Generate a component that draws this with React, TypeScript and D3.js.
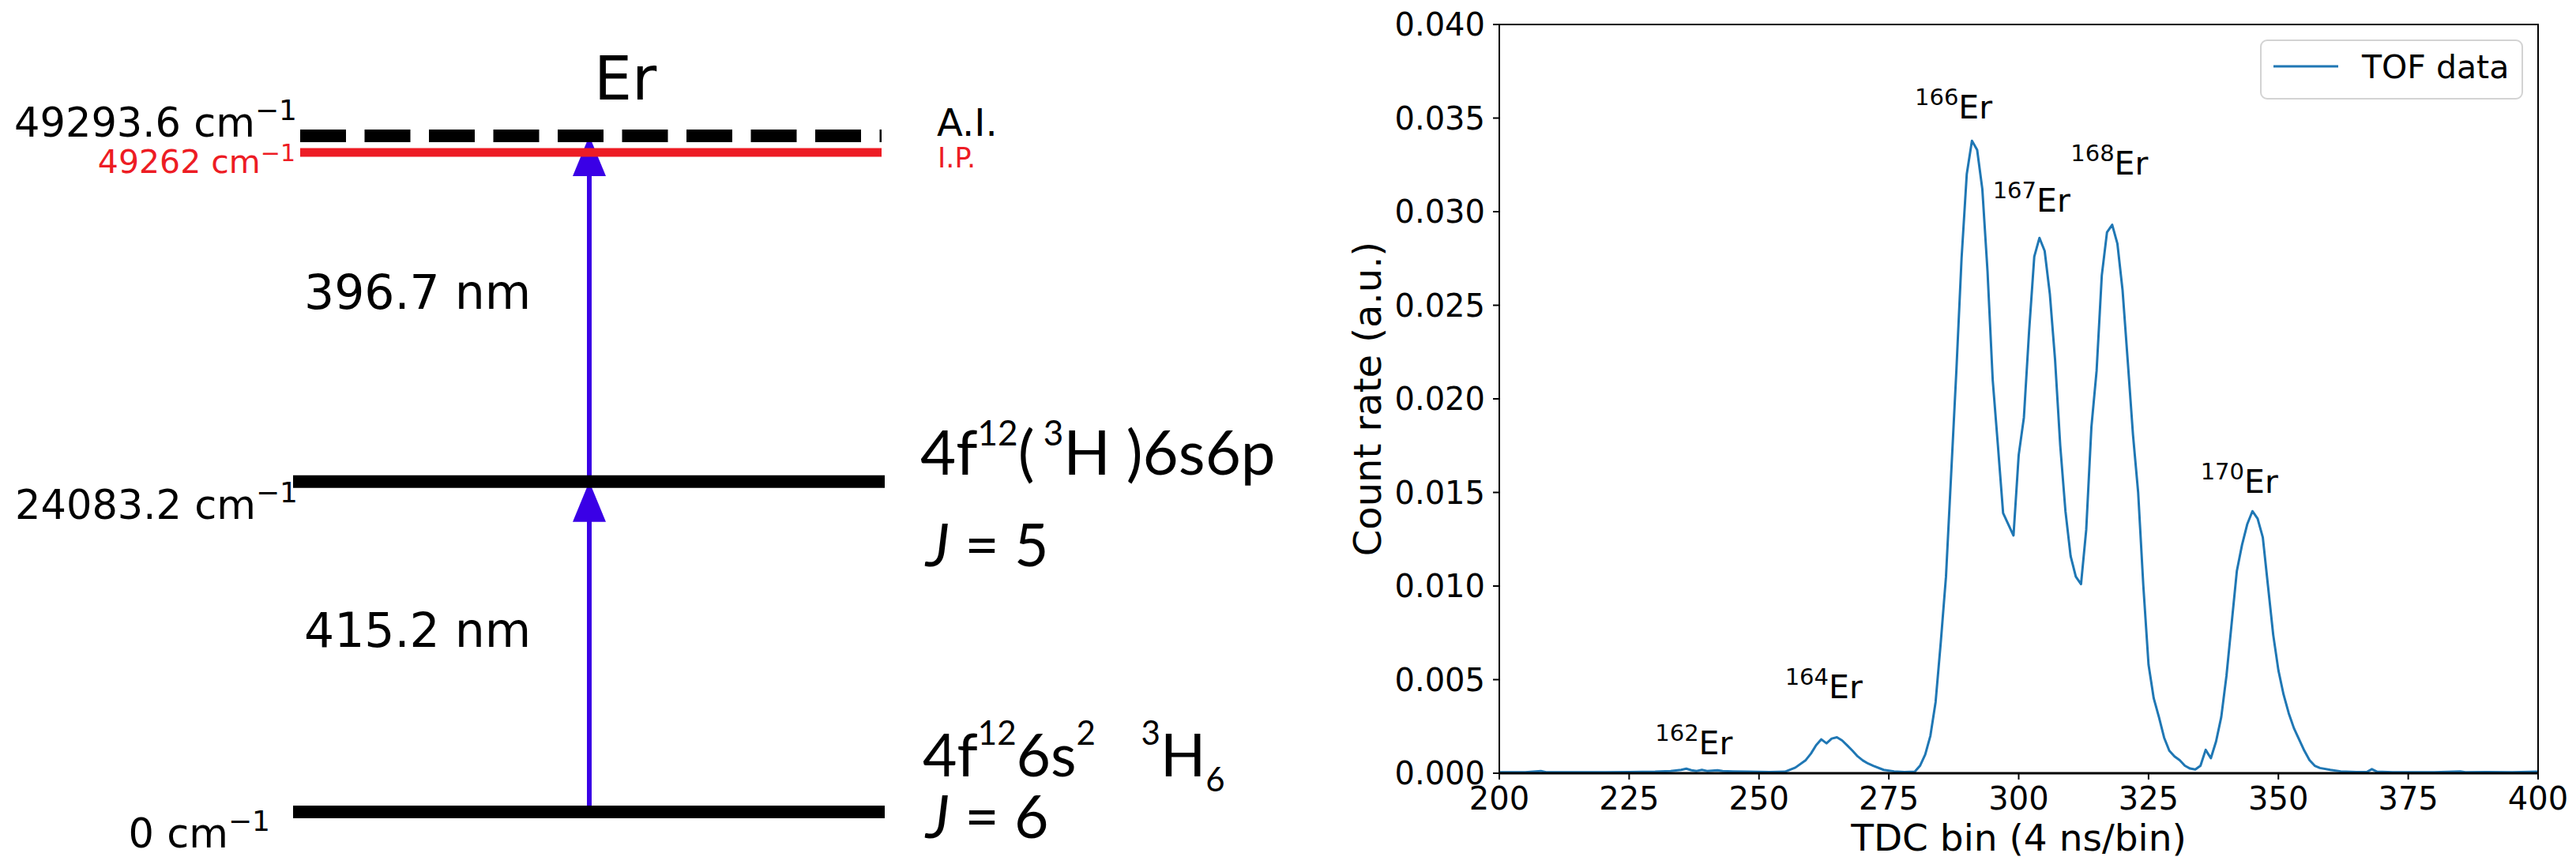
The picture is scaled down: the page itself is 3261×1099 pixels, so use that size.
import React, { useRef, useEffect } from "react";
import * as d3 from "d3";

const W = 3261;
const H = 1099;

// ---- energy level scheme (left panel) ----
const levelEnergies = [0, 24083.2, 49293.6];
const levelLabels = ["0 cm", "24083.2 cm", "49293.6 cm"];
const ionizationEnergy = 49262;
const ionizationLabel = "49262 cm";
const wavelengths = ["415.2 nm", "396.7 nm"];

// ---- TOF spectrum (right panel) ----
const tofBins = [
  200, 205, 208, 209, 215, 220, 225, 230, 233, 235, 236, 237, 238, 239, 240, 242, 243, 245, 248, 252,
  255, 257, 259, 260, 261, 262, 263, 264, 265, 266, 267, 268, 269, 270, 271, 272, 274, 276, 278, 280,
  281, 282, 283, 284, 285, 286, 287, 288, 289, 290, 291, 292, 293, 294, 295, 296, 297, 298, 299, 300,
  301, 302, 303, 304, 305, 306, 307, 308, 309, 310, 311, 312, 313, 314, 315, 316, 317, 318, 319, 320,
  321, 322, 323, 324, 325, 326, 327, 328, 329, 330, 331, 332, 333, 334, 335, 336, 337, 338, 339, 340,
  341, 342, 343, 344, 345, 346, 347, 348, 349, 350, 351, 352, 353, 354, 355, 356, 357, 358, 360, 362,
  365, 367, 368, 369, 372, 380, 385, 386, 390, 395, 400,
];
const tofCounts = [
  0.00005, 0.00005, 0.00012, 0.00005, 0.00005, 0.00005, 0.00006, 0.00008, 0.00012, 0.00018, 0.00024, 0.00016, 0.00012, 0.00018, 0.00012, 0.00016, 0.00012, 0.0001, 0.00008, 0.00006,
  0.00008, 0.0003, 0.0007, 0.00105, 0.0015, 0.00181, 0.0016, 0.00185, 0.00192, 0.00175, 0.00148, 0.0012, 0.0009, 0.00068, 0.00052, 0.0004, 0.00018, 0.0001, 0.00006, 0.00008,
  0.0004, 0.001, 0.002, 0.0038, 0.007, 0.0105, 0.016, 0.0215, 0.0275, 0.032, 0.03379, 0.0333, 0.0312, 0.0268, 0.021, 0.0175, 0.0139, 0.0133, 0.0127, 0.017,
  0.019, 0.0236, 0.0276, 0.0286, 0.0279, 0.0256, 0.0221, 0.0175, 0.014, 0.0116, 0.0105, 0.0101, 0.013, 0.0185, 0.0215, 0.0266, 0.0289, 0.0293, 0.0283, 0.0258,
  0.022, 0.0181, 0.015, 0.01, 0.0058, 0.004, 0.003, 0.0019, 0.0012, 0.0009, 0.0007, 0.0004, 0.00025, 0.0002, 0.0004, 0.00125, 0.0008, 0.0017, 0.003, 0.0052,
  0.008, 0.0108, 0.0122, 0.0133, 0.014, 0.0136, 0.0126, 0.01, 0.0074, 0.0055, 0.0042, 0.0032, 0.0024, 0.0018, 0.0012, 0.0007, 0.0004, 0.00028, 0.00018, 0.0001,
  0.00006, 0.00006, 0.00022, 0.00008, 0.00005, 0.00005, 0.0001, 0.00005, 0.00006, 0.00005, 0.00008,
];
const xTicks = [200, 225, 250, 275, 300, 325, 350, 375, 400];
const yTicks = [0, 0.005, 0.01, 0.015, 0.02, 0.025, 0.03, 0.035, 0.04];
const isotopeMasses = ["162", "164", "166", "167", "168", "170"];
const isotopeLabelBins = [230, 255, 280, 295, 310, 335];
const isotopeLabelCounts = [0.001, 0.004, 0.035, 0.03, 0.032, 0.015];

const MPL = "DejaVu Sans, sans-serif";
const CAL = "Lato, sans-serif";
const TOF_BLUE = "#1f77b4";
const ARROW_BLUE = "#3a00e6";
const IP_RED = "#ed1c24";

type Part = { t: string; size: number; shift?: number; italic?: boolean };

function rich(g: any, x: number, y: number, parts: Part[], family: string, fill = "#000", anchor = "start") {
  const text = g
    .append("text")
    .attr("x", x)
    .attr("y", y)
    .attr("text-anchor", anchor)
    .attr("font-family", family)
    .attr("fill", fill)
    .style("white-space", "pre");
  let prev = 0;
  parts.forEach((p) => {
    const s = p.shift ?? 0;
    text
      .append("tspan")
      .attr("dy", prev - s)
      .attr("font-size", p.size)
      .attr("font-style", p.italic ? "italic" : null)
      .text(p.t);
    prev = s;
  });
  return text;
}

function App() {
  const svgRef = useRef<SVGSVGElement>(null);

  useEffect(() => {
    const svg = d3.select(svgRef.current);
    svg.selectAll("*").remove();
    svg.append("rect").attr("width", W).attr("height", H).attr("fill", "#fff");

    // ================= left: level scheme =================
    const left = svg.append("g");
    const yE = d3.scaleLinear().domain([0, 49293.6]).range([1028, 172]);
    const lineX0 = 371;
    const lineX1 = 1120;
    const arrowX = 746;

    // arrows between successive levels
    for (let i = 0; i < levelEnergies.length - 1; i++) {
      const yFrom = yE(levelEnergies[i]);
      const yTo = yE(levelEnergies[i + 1]);
      left
        .append("line")
        .attr("x1", arrowX)
        .attr("x2", arrowX)
        .attr("y1", yFrom)
        .attr("y2", yTo + 40)
        .attr("stroke", ARROW_BLUE)
        .attr("stroke-width", 6);
      left
        .append("path")
        .attr("d", `M${arrowX},${yTo} L${arrowX - 21},${yTo + 51} L${arrowX + 21},${yTo + 51} Z`)
        .attr("fill", ARROW_BLUE);
      rich(left, 385, (yFrom + yTo) / 2, [{ t: wavelengths[i], size: 60 }], MPL);
    }

    // solid bound levels
    levelEnergies.slice(0, 2).forEach((e) => {
      left
        .append("line")
        .attr("x1", lineX0)
        .attr("x2", lineX1)
        .attr("y1", yE(e))
        .attr("y2", yE(e))
        .attr("stroke", "#000")
        .attr("stroke-width", 16);
    });
    // autoionizing level (dashed)
    const yAI = yE(levelEnergies[2]);
    left
      .append("line")
      .attr("x1", 380)
      .attr("x2", 1116)
      .attr("y1", yAI)
      .attr("y2", yAI)
      .attr("stroke", "#000")
      .attr("stroke-width", 16)
      .attr("stroke-dasharray", "58 23.5");
    // ionization potential, drawn a fixed gap below the AI level (schematic)
    const yIP = yAI + 21;
    left
      .append("line")
      .attr("x1", 380)
      .attr("x2", 1116)
      .attr("y1", yIP)
      .attr("y2", yIP)
      .attr("stroke", IP_RED)
      .attr("stroke-width", 11);

    // energy labels
    const labelBase = [1073, 657, 172.7];
    const labelRight = [342, 377, 376];
    levelLabels.forEach((lab, i) => {
      rich(
        left,
        labelRight[i],
        labelBase[i],
        [
          { t: lab, size: 51 },
          { t: "\u22121", size: 36, shift: 21 },
        ],
        MPL,
        "#000",
        "end"
      );
    });
    rich(
      left,
      374,
      219,
      [
        { t: ionizationLabel, size: 41 },
        { t: "\u22121", size: 30, shift: 15 },
      ],
      MPL,
      IP_RED,
      "end"
    );

    rich(left, 752, 126, [{ t: "Er", size: 76 }], MPL);
    rich(left, 1186, 172, [{ t: "A.I.", size: 48 }], MPL);
    rich(left, 1187, 212, [{ t: "I.P.", size: 35 }], MPL, IP_RED);

    // state designations
    rich(
      left,
      1165,
      601,
      [
        { t: "4f", size: 78 },
        { t: "12", size: 44, shift: 37 },
        { t: "(", size: 78 },
        { t: " 3", size: 44, shift: 37 },
        { t: "H )6s6p", size: 78 },
      ],
      CAL
    );
    rich(left, 1172, 717, [{ t: "J", size: 75, italic: true }, { t: " = 5", size: 75 }], CAL);
    rich(
      left,
      1168,
      983,
      [
        { t: "4f", size: 75 },
        { t: "12", size: 42, shift: 40 },
        { t: "6s", size: 75 },
        { t: "2", size: 42, shift: 40 },
        { t: "   ", size: 75 },
        { t: "3", size: 42, shift: 40 },
        { t: "H", size: 75 },
        { t: "6", size: 42, shift: -19 },
      ],
      CAL
    );
    rich(left, 1172, 1061, [{ t: "J", size: 75, italic: true }, { t: " = 6", size: 75 }], CAL);

    // ================= right: TOF spectrum =================
    const x = d3.scaleLinear().domain([200, 400]).range([1898, 3213]);
    const y = d3.scaleLinear().domain([0, 0.04]).range([979, 31]);
    const right = svg.append("g");

    const pts = tofBins.map((b, i) => [b, tofCounts[i]] as [number, number]);
    const ln = d3
      .line<[number, number]>()
      .x((d) => x(d[0]))
      .y((d) => y(d[1]));
    right
      .append("path")
      .datum(pts)
      .attr("d", ln)
      .attr("fill", "none")
      .attr("stroke", TOF_BLUE)
      .attr("stroke-width", 3)
      .attr("stroke-linejoin", "round");

    // spines
    right
      .append("rect")
      .attr("x", x(200))
      .attr("y", y(0.04))
      .attr("width", x(400) - x(200))
      .attr("height", y(0) - y(0.04))
      .attr("fill", "none")
      .attr("stroke", "#000")
      .attr("stroke-width", 2);
    right
      .append("line")
      .attr("x1", x(200))
      .attr("x2", x(400))
      .attr("y1", y(0))
      .attr("y2", y(0))
      .attr("stroke", "#000")
      .attr("stroke-width", 3);

    // ticks
    xTicks.forEach((t) => {
      right
        .append("line")
        .attr("x1", x(t))
        .attr("x2", x(t))
        .attr("y1", y(0))
        .attr("y2", y(0) + 8)
        .attr("stroke", "#000")
        .attr("stroke-width", 2);
      right
        .append("text")
        .attr("x", x(t))
        .attr("y", 1025)
        .attr("text-anchor", "middle")
        .attr("font-family", MPL)
        .attr("font-size", 40)
        .text(String(t));
    });
    yTicks.forEach((t) => {
      right
        .append("line")
        .attr("x1", x(200) - 8)
        .attr("x2", x(200))
        .attr("y1", y(t))
        .attr("y2", y(t))
        .attr("stroke", "#000")
        .attr("stroke-width", 2);
      right
        .append("text")
        .attr("x", 1880)
        .attr("y", y(t))
        .attr("dy", "0.36em")
        .attr("text-anchor", "end")
        .attr("font-family", MPL)
        .attr("font-size", 40)
        .text(d3.format(".3f")(t));
    });

    right
      .append("text")
      .attr("x", (x(200) + x(400)) / 2)
      .attr("y", 1077)
      .attr("text-anchor", "middle")
      .attr("font-family", MPL)
      .attr("font-size", 47)
      .text("TDC bin (4 ns/bin)");
    right
      .append("text")
      .attr("transform", `translate(1748,${(y(0) + y(0.04)) / 2}) rotate(-90)`)
      .attr("text-anchor", "middle")
      .attr("font-family", MPL)
      .attr("font-size", 48)
      .text("Count rate (a.u.)");

    // isotope annotations
    isotopeMasses.forEach((m, i) => {
      rich(
        right,
        x(isotopeLabelBins[i]),
        y(isotopeLabelCounts[i]),
        [
          { t: m, size: 29, shift: 17 },
          { t: "Er", size: 41 },
        ],
        MPL
      );
    });

    // legend
    right
      .append("rect")
      .attr("x", 2862)
      .attr("y", 51)
      .attr("width", 331)
      .attr("height", 74)
      .attr("rx", 8)
      .attr("fill", "#fff")
      .attr("fill-opacity", 0.8)
      .attr("stroke", "#d3d3d3")
      .attr("stroke-width", 2);
    right
      .append("line")
      .attr("x1", 2878)
      .attr("x2", 2960)
      .attr("y1", 84)
      .attr("y2", 84)
      .attr("stroke", TOF_BLUE)
      .attr("stroke-width", 3);
    right
      .append("text")
      .attr("x", 2990)
      .attr("y", 99)
      .attr("font-family", MPL)
      .attr("font-size", 41)
      .text("TOF data");
  }, []);

  return <svg ref={svgRef} width={W} height={H} style={{ position: "absolute", left: 0, top: 0 }} />;
}

export default App;
